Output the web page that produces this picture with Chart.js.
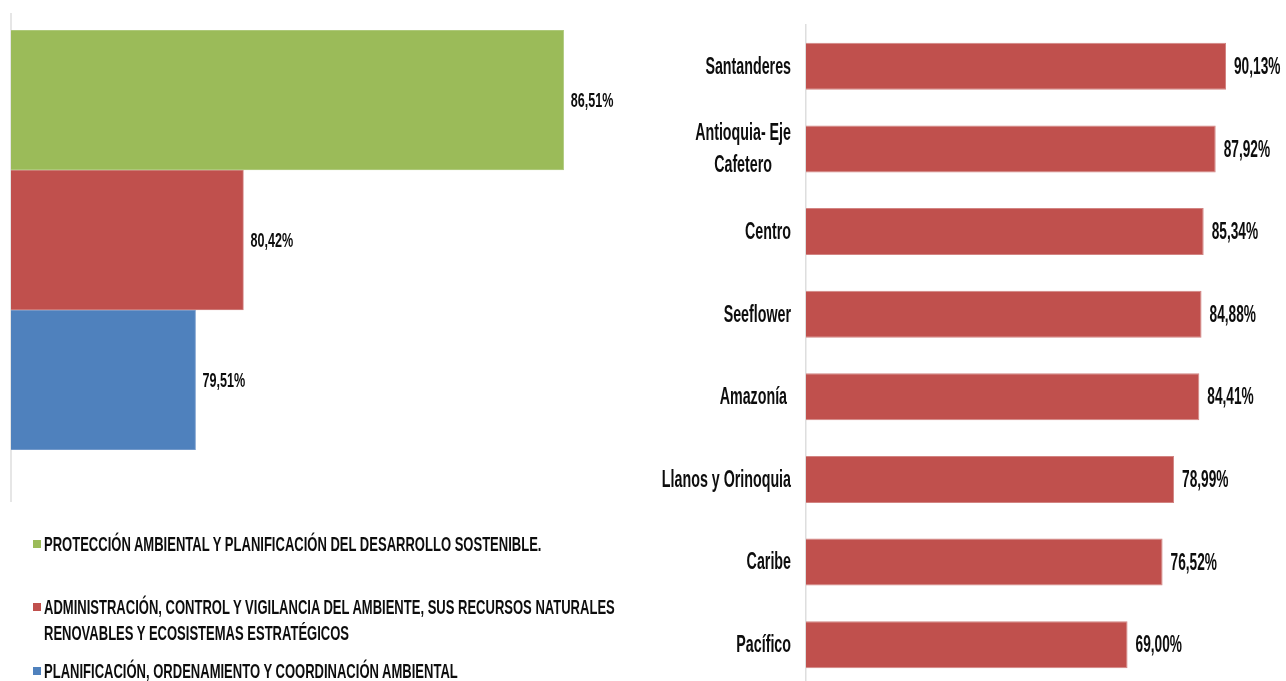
<!DOCTYPE html>
<html>
<head>
<meta charset="utf-8">
<script src="https://cdn.jsdelivr.net/npm/chart.js@4.4.0/dist/chart.umd.min.js"></script>
<style>
    body { margin: 0; width: 1286px; height: 681px; overflow: hidden; background: #fff;
           font-family: "Liberation Sans", Arial, sans-serif; }
    #leftBox { position: absolute; left: 0; top: 0; width: 680px; height: 510px; }
    #rightBox { position: absolute; left: 640px; top: 0; width: 646px; height: 690px; }
    .leg { position: absolute; left: 30px; width: 620px; font-weight: bold; font-size: 21px;
           line-height: 26px; color: #0d0d0d; }
    .leg .box { position: absolute; left: 3px; top: 9px; width: 8px; height: 8px; }
    .leg .txt { display: block; margin-left: 14px; width: 990px;
                transform: scaleX(0.62); transform-origin: 0 0; }
</style>
</head>
<body>
<div id="leftBox"><canvas id="programChart"></canvas></div>
<div id="rightBox"><canvas id="regionChart"></canvas></div>
<div id="legend"></div>

<script>
// programas (grafico izquierdo)
const programNames = [
    'PROTECCIÓN AMBIENTAL Y PLANIFICACIÓN DEL DESARROLLO SOSTENIBLE.',
    'ADMINISTRACIÓN, CONTROL Y VIGILANCIA DEL AMBIENTE, SUS RECURSOS NATURALES RENOVABLES Y ECOSISTEMAS ESTRATÉGICOS',
    'PLANIFICACIÓN, ORDENAMIENTO Y COORDINACIÓN AMBIENTAL'
];
const programValues = [86.51, 80.42, 79.51];

// regiones (grafico derecho)
const regions = ['Santanderes', ['Antioquia- Eje', 'Cafetero'], 'Centro', 'Seeflower', 'Amazonía ',
    'Llanos y Orinoquia', 'Caribe', 'Pacífico'];
const regionValues = [90.13, 87.92, 85.34, 84.88, 84.41, 78.99, 76.52, 69.00];

const programColors = ['#9BBB59', '#C0504D', '#4F81BD'];
const programBorders = ['#B3CC84', '#D28482', '#7FA2CF'];
const regionColor = '#C0504D';
const legendTops = [531, 594, 658];

const FONT = '"Liberation Sans", Arial, sans-serif';

function pct(v) {
    return v.toFixed(2).replace('.', ',') + '%';
}

// texto condensado (tipo Arial Narrow) escalando en x
function narrowText(ctx, text, x, y, sx) {
    ctx.save();
    ctx.translate(x, y);
    ctx.scale(sx, 1);
    ctx.fillText(text, 0, 0);
    ctx.restore();
}

const valueLabels = {
    id: 'valueLabels',
    afterDatasetsDraw(chart, args, opts) {
        const ctx = chart.ctx;
        ctx.save();
        ctx.font = 'bold ' + opts.size + 'px ' + FONT;
        ctx.fillStyle = '#0d0d0d';
        ctx.textAlign = 'left';
        ctx.textBaseline = 'middle';
        chart.data.datasets.forEach((ds, i) => {
            chart.getDatasetMeta(i).data.forEach((bar, j) => {
                narrowText(ctx, pct(ds.data[j]), bar.x + opts.gap, bar.y + 1, opts.sx);
            });
        });
        ctx.restore();
    }
};

// linea del eje izquierdo, un poco mas larga que el area de barras
const leftAxisLine = {
    id: 'leftAxisLine',
    beforeDatasetsDraw(chart) {
        const ctx = chart.ctx;
        const x = chart.chartArea.left;
        ctx.save();
        ctx.strokeStyle = '#dedede';
        ctx.lineWidth = 1.5;
        ctx.beginPath();
        ctx.moveTo(x, 13);
        ctx.lineTo(x, 502);
        ctx.stroke();
        ctx.restore();
    }
};

// etiquetas de categorias: alineadas a la derecha, lineas centradas entre si
const categoryLabels = {
    id: 'categoryLabels',
    afterDraw(chart) {
        const ctx = chart.ctx;
        const scale = chart.scales.y;
        const right = chart.chartArea.left - 15;
        const sx = 0.62;
        ctx.save();
        ctx.font = 'bold 23px ' + FONT;
        ctx.fillStyle = '#0d0d0d';
        ctx.textAlign = 'center';
        ctx.textBaseline = 'middle';
        chart.data.labels.forEach((label, i) => {
            const lines = Array.isArray(label) ? label : [label];
            const w = Math.max(...lines.map(l => ctx.measureText(l).width)) * sx;
            const y = scale.getPixelForTick(i);
            const lh = 32;
            lines.forEach((l, k) => {
                narrowText(ctx, l, right - w / 2, y + 1 + (k - (lines.length - 1) / 2) * lh, sx);
            });
        });
        ctx.restore();
    }
};

new Chart(document.getElementById('programChart'), {
    type: 'bar',
    data: {
        labels: [''],
        datasets: programNames.map((name, i) => ({
            label: name,
            data: [programValues[i]],
            backgroundColor: programColors[i],
            borderColor: programBorders[i],
            borderWidth: 1,
            categoryPercentage: 1,
            barPercentage: 1
        }))
    },
    options: {
        indexAxis: 'y',
        responsive: true,
        maintainAspectRatio: false,
        animation: false,
        layout: { padding: { left: 11, right: 38, top: 30, bottom: 60 } },
        scales: {
            x: { display: false, min: 76, max: 88 },
            y: { display: false }
        },
        plugins: {
            legend: { display: false },
            tooltip: { enabled: false },
            valueLabels: { size: 21, sx: 0.6, gap: 7 }
        }
    },
    plugins: [leftAxisLine, valueLabels]
});

new Chart(document.getElementById('regionChart'), {
    type: 'bar',
    data: {
        labels: regions,
        datasets: [{
            data: regionValues,
            backgroundColor: regionColor,
            borderColor: '#D28482',
            borderWidth: 1,
            categoryPercentage: 1,
            barPercentage: 0.57
        }]
    },
    options: {
        indexAxis: 'y',
        responsive: true,
        maintainAspectRatio: false,
        animation: false,
        layout: { padding: { left: 0, right: 14, top: 25, bottom: 4 } },
        scales: {
            x: { display: false, min: 0, max: 100 },
            y: {
                ticks: { display: false },
                grid: { display: false },
                border: { color: '#dedede', width: 1.5 },
                afterFit(scale) { scale.width = 166; }
            }
        },
        plugins: {
            legend: { display: false },
            tooltip: { enabled: false },
            valueLabels: { size: 24, sx: 0.57, gap: 8 }
        }
    },
    plugins: [valueLabels, categoryLabels]
});

// leyenda del grafico izquierdo
const legend = document.getElementById('legend');
programNames.forEach((name, i) => {
    const item = document.createElement('div');
    item.className = 'leg';
    item.style.top = legendTops[i] + 'px';
    item.innerHTML = '<span class="box" style="background:' + programColors[i] + '"></span>' +
        '<span class="txt">' + name + '</span>';
    legend.appendChild(item);
});
</script>
</body>
</html>
